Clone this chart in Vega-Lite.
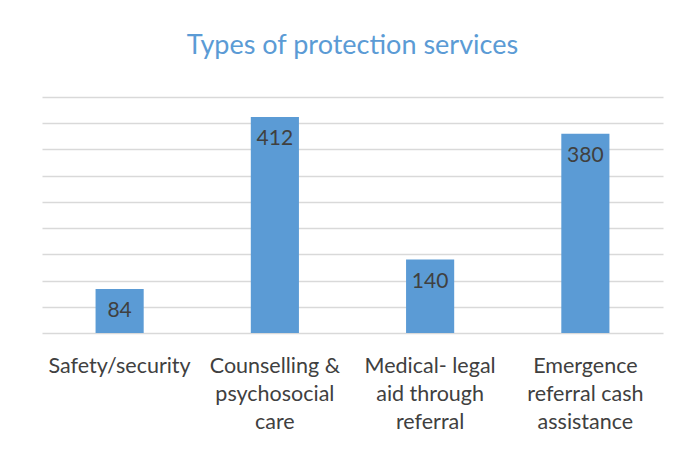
{
  "$schema": "https://vega.github.io/schema/vega-lite/v6.json",
  "autosize": {"type": "none"},
  "width": 621,
  "height": 236,
  "padding": {"left": 42, "top": 97, "right": 32, "bottom": 118},
  "background": "white",
  "title": {
    "text": "Types of protection services",
    "color": "#5B9BD5",
    "font": "Lato",
    "fontSize": 27,
    "fontWeight": "normal",
    "anchor": "middle",
    "offset": 37
  },
  "data": {
    "values": [
      {"service": "Safety/security", "count": 84},
      {"service": "Counselling &\npsychosocial\ncare", "count": 412},
      {"service": "Medical- legal\naid through\nreferral", "count": 140},
      {"service": "Emergence\nreferral cash\nassistance", "count": 380}
    ]
  },
  "config": {
    "view": {"stroke": null},
    "font": "Lato"
  },
  "encoding": {
    "x": {
      "field": "service",
      "type": "nominal",
      "sort": null,
      "scale": {"paddingInner": 0.69, "paddingOuter": 0.345},
      "axis": {
        "title": null,
        "labelAngle": 0,
        "labelExpr": "split(datum.label, '\\n')",
        "labelFont": "Lato",
        "labelFontSize": 21.5,
        "labelColor": "#404040",
        "labelLineHeight": 28,
        "labelPadding": 33,
        "labelBaseline": "middle",
        "labelLimit": 0,
        "ticks": false,
        "domain": false
      }
    },
    "y": {
      "field": "count",
      "type": "quantitative",
      "scale": {"domain": [0, 450], "nice": false},
      "axis": {
        "title": null,
        "labels": false,
        "ticks": false,
        "domain": false,
        "values": [0, 50, 100, 150, 200, 250, 300, 350, 400, 450],
        "gridColor": "#D9D9D9",
        "gridWidth": 1.5
      }
    }
  },
  "layer": [
    {"mark": {"type": "bar", "color": "#5B9BD5"}},
    {
      "mark": {"type": "text", "baseline": "middle", "dy": 22, "fontSize": 21, "color": "#404040", "font": "Lato"},
      "encoding": {"text": {"field": "count", "type": "quantitative"}}
    }
  ]
}
